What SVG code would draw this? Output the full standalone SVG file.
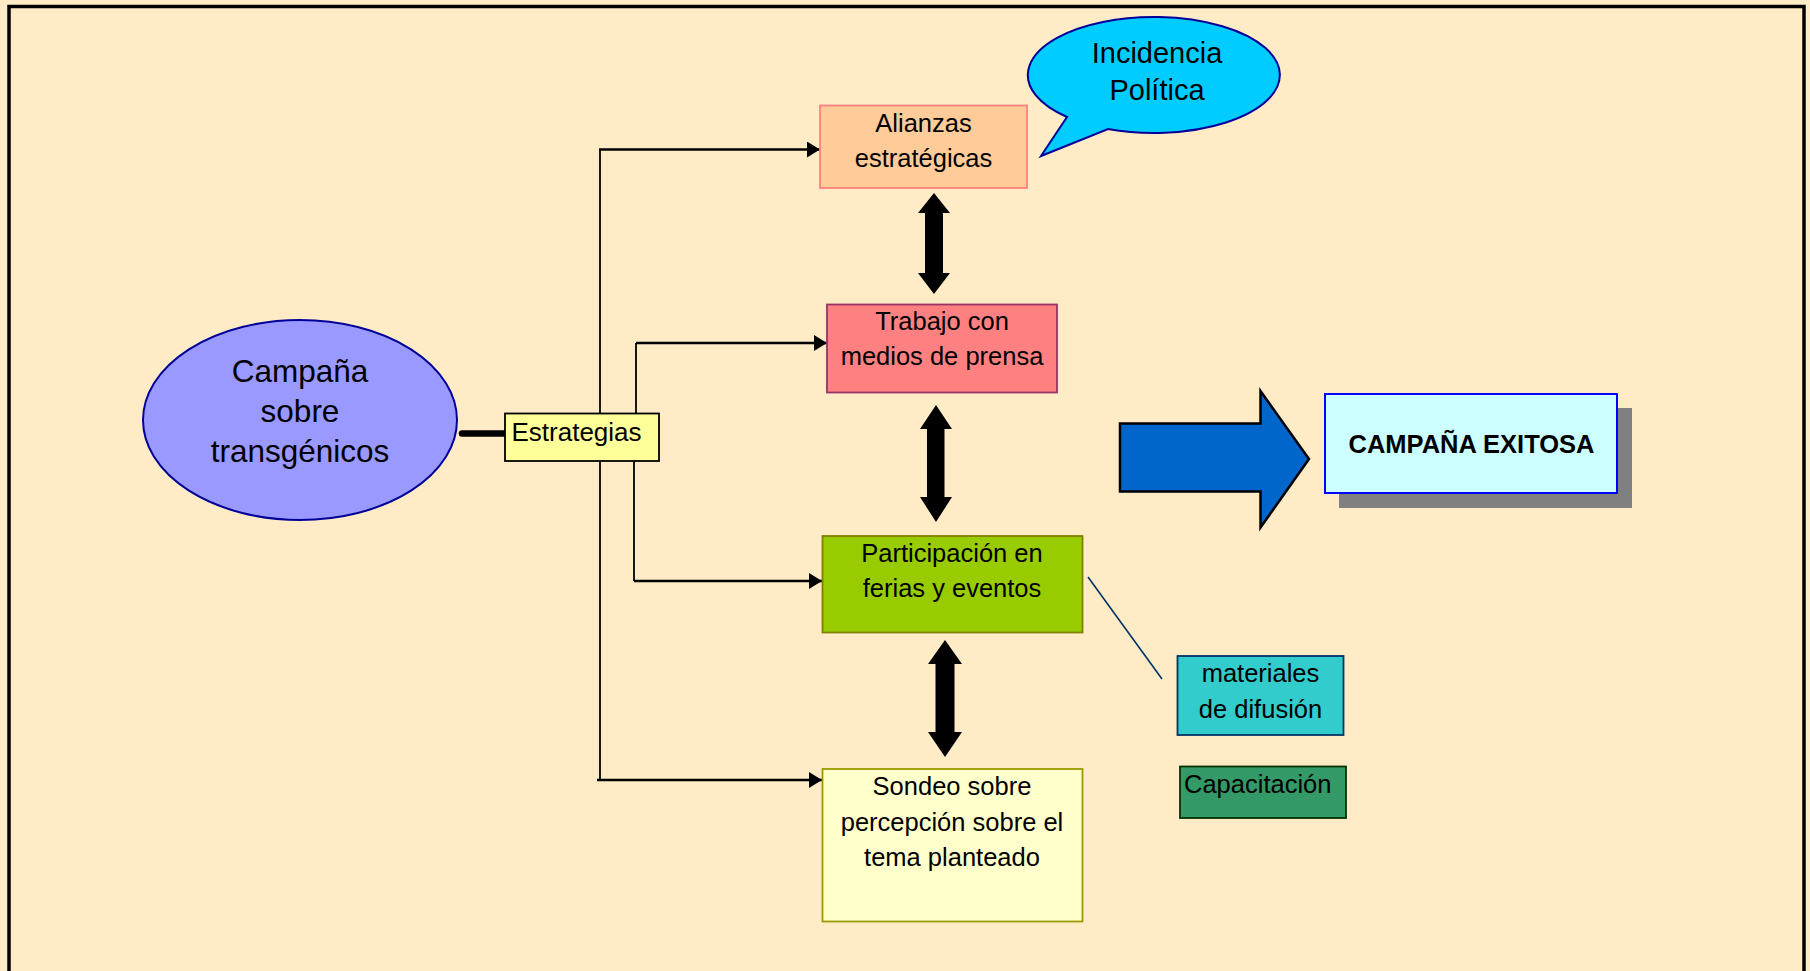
<svg xmlns="http://www.w3.org/2000/svg" width="1810" height="971" viewBox="0 0 1810 971">
<defs>
<style>
text{font-family:"Liberation Sans",Arial,sans-serif;fill:#000;}
.t{font-size:25.5px;text-anchor:middle;}
.conn{stroke:#000;fill:none;}
.h{stroke-width:2.5;}
.v{stroke-width:1.8;}
.dbl{fill:#000;stroke:none;}
</style>
<marker id="ah" markerUnits="userSpaceOnUse" markerWidth="14" markerHeight="16" refX="13" refY="8" orient="auto">
<path d="M0,0 L13,8 L0,16 Z" fill="#000"/>
</marker>
</defs>
<rect x="0" y="0" width="1810" height="971" fill="#FFEBC6"/>
<rect x="9" y="6.5" width="1795" height="1000" fill="#FFEBC6" stroke="#000" stroke-width="3.5"/>

<g id="connectors">
<line class="conn" x1="462" y1="433.5" x2="505" y2="433.5" stroke-width="6.5" stroke-linecap="round"/>
<polyline class="conn v" points="600,149 600,781"/>
<polyline class="conn v" points="636,343 636,413"/>
<polyline class="conn v" points="634,461 634,581"/>
<line class="conn h" x1="599" y1="149.5" x2="820" y2="149.5" marker-end="url(#ah)"/>
<line class="conn h" x1="636" y1="343" x2="827" y2="343" marker-end="url(#ah)"/>
<line class="conn h" x1="634" y1="581" x2="822" y2="581" marker-end="url(#ah)"/>
<line class="conn h" x1="597" y1="780" x2="822" y2="780" marker-end="url(#ah)"/>
<path class="dbl" d="M934,193 L950,213 L943,213 L943,273 L950,273 L934,294 L918,273 L925,273 L925,213 L918,213 Z"/>
<path class="dbl" d="M936,405 L952,429 L944.5,429 L944.5,497 L952,497 L936,522 L920,497 L927,497 L927,429 L920,429 Z"/>
<path class="dbl" d="M945,640 L962,664 L954.5,664 L954.5,732 L962,732 L945,757 L928,732 L935.5,732 L935.5,664 L928,664 Z"/>
<line x1="1088" y1="577" x2="1162" y2="679" stroke="#003366" stroke-width="1.6"/>
</g>

<g id="campana">
<ellipse cx="300" cy="420" rx="157" ry="100" fill="#9999FF" stroke="#000099" stroke-width="2"/>
<text x="300" y="382" style="font-size:31.5px;text-anchor:middle;">Campaña</text>
<text x="300" y="422" style="font-size:31.5px;text-anchor:middle;">sobre</text>
<text x="300" y="462" style="font-size:31.5px;text-anchor:middle;">transgénicos</text>
</g>

<g id="estrategias">
<rect x="505" y="413.5" width="154" height="47.5" fill="#FFFF99" stroke="#000" stroke-width="1.8"/>
<text x="511.5" y="440.5" style="font-size:26px;">Estrategias</text>
</g>

<g id="alianzas">
<rect x="820" y="105.5" width="207" height="82.5" fill="#FFCC99" stroke="#FF8080" stroke-width="1.8"/>
<text class="t" x="923.5" y="132">Alianzas</text>
<text class="t" x="923.5" y="167">estratégicas</text>
</g>

<g id="incidencia">
<path d="M1067,117 A126,58 0 1 1 1108,129 L1041,156 Z" fill="#00CCFF" stroke="#000099" stroke-width="2" stroke-linejoin="miter"/>
<text x="1157" y="63" style="font-size:29px;text-anchor:middle;">Incidencia</text>
<text x="1157" y="100" style="font-size:29px;text-anchor:middle;">Política</text>
</g>

<g id="trabajo">
<rect x="827" y="304.5" width="230" height="88" fill="#FF8080" stroke="#993366" stroke-width="1.8"/>
<text class="t" x="942" y="330">Trabajo con</text>
<text class="t" x="942" y="365">medios de prensa</text>
</g>

<g id="participacion">
<rect x="822.5" y="536" width="260" height="96.5" fill="#99CC00" stroke="#808000" stroke-width="1.8"/>
<text class="t" x="952" y="562">Participación en</text>
<text class="t" x="952" y="597">ferias y eventos</text>
</g>

<g id="sondeo">
<rect x="822.5" y="769" width="260" height="152.5" fill="#FFFFCC" stroke="#999900" stroke-width="1.8"/>
<text class="t" x="952" y="795">Sondeo sobre</text>
<text class="t" x="952" y="831">percepción sobre el</text>
<text class="t" x="952" y="866">tema planteado</text>
</g>

<g id="materiales">
<rect x="1177.5" y="656" width="166" height="79" fill="#33CCCC" stroke="#003366" stroke-width="1.8"/>
<text class="t" x="1260.5" y="682">materiales</text>
<text class="t" x="1260.5" y="718">de difusión</text>
</g>

<g id="capacitacion">
<rect x="1180" y="766.5" width="166" height="51.5" fill="#339966" stroke="#003300" stroke-width="1.8"/>
<text x="1184" y="793" style="font-size:25.5px;">Capacitación</text>
</g>

<g id="flecha">
<path d="M1120,423.5 L1260.5,423.5 L1260.5,391 L1309,459 L1260.5,527.5 L1260.5,491.5 L1120,491.5 Z" fill="#0066CC" stroke="#000" stroke-width="2.5" stroke-linejoin="miter"/>
</g>

<g id="exitosa">
<rect x="1339" y="408" width="293" height="100" fill="#808080"/>
<rect x="1325" y="394" width="292" height="99" fill="#CCFFFF" stroke="#0000FF" stroke-width="2"/>
<text x="1471.5" y="452.5" style="font-size:25.5px;font-weight:bold;text-anchor:middle;">CAMPAÑA EXITOSA</text>
</g>
</svg>
